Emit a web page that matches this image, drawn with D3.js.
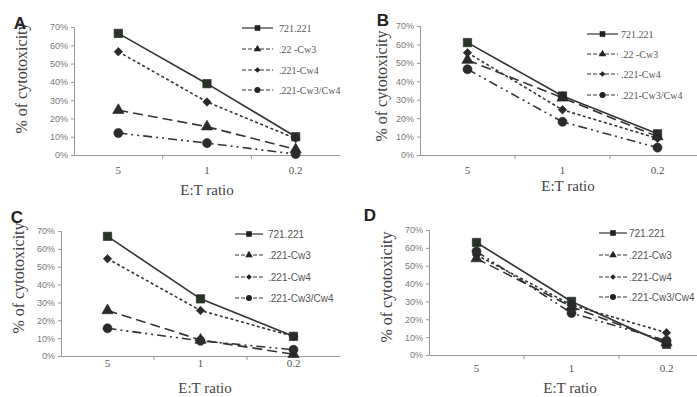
<!DOCTYPE html>
<html>
<head>
<meta charset="utf-8">
<script src="https://cdn.jsdelivr.net/npm/d3@7/dist/d3.min.js"></script>
<style>
  html, body { margin: 0; padding: 0; background: #fff; }
  svg { display: block; }
</style>
</head>
<body>
<svg id="chart" width="697" height="397"></svg>
<script>
// ---------------- DATA ----------------
const categories = ["5", "1", "0.2"];
const seriesNames = ["721.221", ".221-Cw3", ".221-Cw4", ".221-Cw3/Cw4"];
const legendLabelsAB = ["721.221", ".22 -Cw3", ".221-Cw4", ".221-Cw3/Cw4"];
const legendLabelsCD = ["721.221", ".221-Cw3", ".221-Cw4", ".221-Cw3/Cw4"];
const yTickValues = [0, 10, 20, 30, 40, 50, 60, 70];
const panelLetters = ["A", "B", "C", "D"];

// % of cytotoxicity per E:T ratio (5, 1, 0.2)
const A_721 = [66.5, 39, 10];
const A_Cw3 = [24.5, 15.5, 3];
const A_Cw4 = [56.5, 29, 9];
const A_Cw3Cw4 = [12, 6.5, 0.5];

const B_721 = [61, 32, 11.5];
const B_Cw3 = [51.5, 31, 10];
const B_Cw4 = [55.5, 24.5, 9];
const B_Cw3Cw4 = [46.5, 18, 4];

const C_721 = [67, 32, 11];
const C_Cw3 = [25.5, 9, 1];
const C_Cw4 = [54.5, 25.5, 11];
const C_Cw3Cw4 = [15.5, 8.5, 3.5];

const D_721 = [63, 30, 6];
const D_Cw3 = [54, 27, 7];
const D_Cw4 = [56, 28, 12.5];
const D_Cw3Cw4 = [58, 23.5, 8];

// ---------------- LAYOUT ----------------
const panels = [
  { letter: panelLetters[0], values: [A_721, A_Cw3, A_Cw4, A_Cw3Cw4], legend: legendLabelsAB,
    xr: [74, 340], yr: [155, 27], lab: [20, 29], yTitle: [21, 78], xTitle: [207, 195], xLab: 174,
    leg: { x1: 242, x2: 273, tx: 279, ys: [28, 49, 70, 90] }, legFont: "Liberation Serif" },
  { letter: panelLetters[1], values: [B_721, B_Cw3, B_Cw4, B_Cw3Cw4], legend: legendLabelsAB,
    xr: [420, 705], yr: [155, 26], lab: [383, 26], yTitle: [381, 86], xTitle: [568, 191], xLab: 174,
    leg: { x1: 587, x2: 618, tx: 621, ys: [34, 54, 74, 95] }, legFont: "Liberation Serif" },
  { letter: panelLetters[2], values: [C_721, C_Cw3, C_Cw4, C_Cw3Cw4], legend: legendLabelsCD,
    xr: [61, 340], yr: [356, 231], lab: [17, 223], yTitle: [18, 278], xTitle: [205, 393], xLab: 367,
    leg: { x1: 235, x2: 263, tx: 268, ys: [234, 255, 277, 298] }, legFont: "Liberation Sans" },
  { letter: panelLetters[3], values: [D_721, D_Cw3, D_Cw4, D_Cw3Cw4], legend: legendLabelsCD,
    xr: [429, 714], yr: [355, 230], lab: [370, 221], yTitle: [386, 287], xTitle: [570, 393], xLab: 372,
    leg: { x1: 599, x2: 627, tx: 629, ys: [233, 255, 277, 297] }, legFont: "Liberation Sans" }
];

// series styles
const styles = [
  { dash: null, symbol: d3.symbolSquare, size: 70, rot: 0, width: 1.6 },
  { dash: "10,5", symbol: d3.symbolTriangle, size: 55, rot: 0, width: 1.6 },
  { dash: "3,2.5", symbol: d3.symbolSquare, size: 36, rot: 45, width: 1.6 },
  { dash: "9,4,2,4,2,4", symbol: d3.symbolCircle, size: 64, rot: 0, width: 1.6 }
];

const lineColor = "#333";
const svg = d3.select("#chart");

panels.forEach(p => {
  const g = svg.append("g");
  const x = d3.scaleBand().domain(categories).range(p.xr).padding(0);
  const bw = x.bandwidth();
  const cx = c => x(c) + bw / 2;
  const y = d3.scaleLinear().domain([0, 70]).range(p.yr);

  // y axis
  const yAxis = d3.axisLeft(y).tickValues(yTickValues).tickSize(3).tickPadding(3)
    .tickFormat(d => d + "%");
  const ya = g.append("g").attr("transform", `translate(${p.xr[0]},0)`).call(yAxis);
  ya.select(".domain").attr("stroke", "#999");
  ya.selectAll(".tick line").attr("stroke", "#999");
  ya.selectAll(".tick text").attr("fill", "#777").attr("font-family", "Liberation Sans")
    .attr("font-size", 9);

  // x axis
  const xAxis = d3.axisBottom(x).tickSize(0).tickPadding(0);
  const xa = g.append("g").attr("transform", `translate(0,${p.yr[0]})`).call(xAxis);
  xa.select(".domain").attr("stroke", "#999");
  xa.selectAll(".tick text").attr("fill", "#555").attr("font-family", "Liberation Serif")
    .attr("font-size", 11).attr("dy", null).attr("y", p.xLab - p.yr[0]);
  // category separator ticks
  g.selectAll(".septick").data(categories.slice(1)).enter().append("line")
    .attr("x1", d => x(d)).attr("x2", d => x(d))
    .attr("y1", p.yr[0]).attr("y2", p.yr[0] + 4)
    .attr("stroke", "#999");

  // axis titles
  g.append("text").attr("x", p.xTitle[0]).attr("y", p.xTitle[1])
    .attr("text-anchor", "middle").attr("font-family", "Liberation Serif")
    .attr("font-size", 15).attr("fill", "#444").text("E:T ratio");
  g.append("text").attr("transform", `translate(${p.yTitle[0]},${p.yTitle[1]}) rotate(-90)`)
    .attr("text-anchor", "middle").attr("dy", "0.35em").attr("font-family", "Liberation Serif")
    .attr("font-size", 16).attr("fill", "#444").text("% of cytotoxicity");

  // panel letter
  g.append("text").attr("x", p.lab[0]).attr("y", p.lab[1]).attr("text-anchor", "middle")
    .attr("font-family", "Liberation Sans").attr("font-weight", "bold")
    .attr("font-size", 17).attr("fill", "#222").text(p.letter);

  // series
  const line = d3.line().x((d, i) => cx(categories[i])).y(d => y(d));
  p.values.forEach((vals, si) => {
    const st = styles[si];
    g.append("path").datum(vals).attr("d", line)
      .attr("fill", "none").attr("stroke", lineColor).attr("stroke-width", st.width)
      .attr("stroke-dasharray", st.dash);
  });
  // markers drawn on top
  p.values.forEach((vals, si) => {
    const st = styles[si];
    const sym = d3.symbol().type(st.symbol).size(st.size);
    g.selectAll(null).data(vals).enter().append("path")
      .attr("d", sym)
      .attr("transform", (d, i) => `translate(${cx(categories[i])},${y(d)}) rotate(${st.rot})`)
      .attr("fill", si === 0 ? "#2a3328" : "#2b2b2b").attr("stroke", "#222").attr("stroke-width", 0.6);
  });

  // legend
  p.legend.forEach((name, si) => {
    const st = styles[si];
    const ly = p.leg.ys[si];
    g.append("line").attr("x1", p.leg.x1).attr("x2", p.leg.x2).attr("y1", ly).attr("y2", ly)
      .attr("stroke", lineColor).attr("stroke-width", 1.2)
      .attr("stroke-dasharray", st.dash ? "4,2" : null);
    const sym = d3.symbol().type(st.symbol).size(st.size * 0.45);
    g.append("path").attr("d", sym)
      .attr("transform", `translate(${(p.leg.x1 + p.leg.x2) / 2},${ly}) rotate(${st.rot})`)
      .attr("fill", "#222");
    g.append("text").attr("x", p.leg.tx).attr("y", ly).attr("dy", "0.35em")
      .attr("font-family", p.legFont).attr("font-size", 10).attr("fill", "#555").text(name);
  });
});
</script>
</body>
</html>
